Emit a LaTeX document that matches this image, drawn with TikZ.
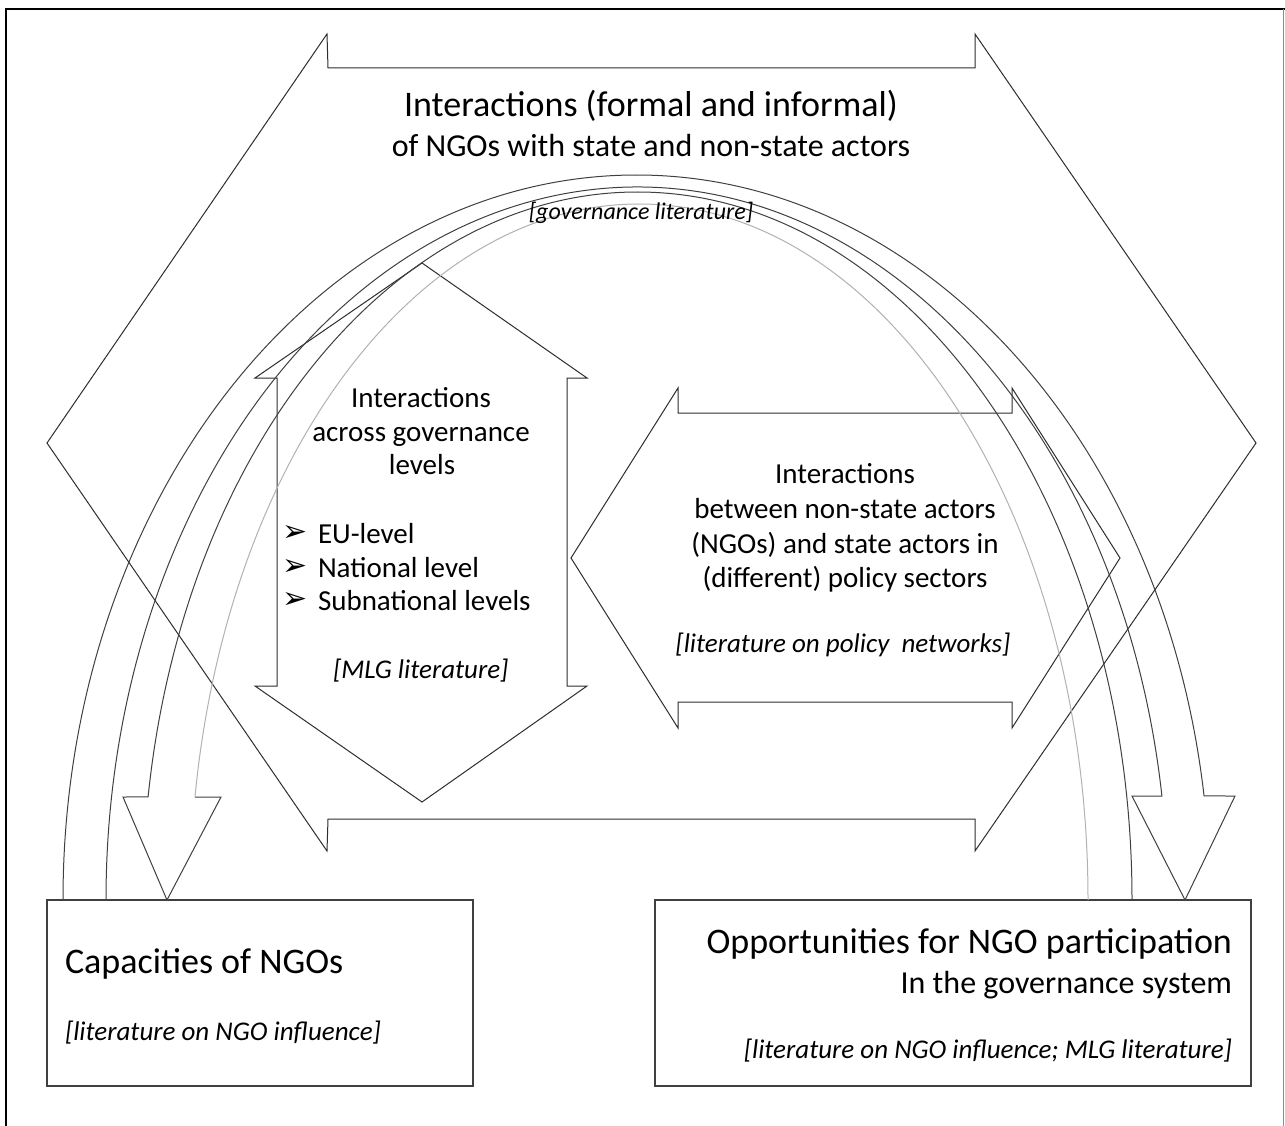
\documentclass[tikz,border=0pt]{standalone}
\usepackage{fontspec}
\setmainfont{Carlito}
\newfontfamily\dejavu{DejaVu Sans}
\usetikzlibrary{calc}
\begin{document}
\begin{tikzpicture}[x=1pt,y=1pt,
  shapeline/.style={draw=black!82, line width=1pt, line join=miter},
  arcline/.style={draw=black!75, line width=1pt, line join=miter},
  lightarc/.style={draw=black!30, line width=1pt},
  boxnode/.style={draw=black!75, line width=1.3pt, inner sep=0pt, outer sep=0pt, rectangle},
  txt/.style={inner sep=0pt, outer sep=0pt, text=black},
  fbig/.style={txt, font=\fontsize{36}{43}\selectfont},
  fsub/.style={txt, font=\fontsize{32}{38}\selectfont},
  fmid/.style={txt, font=\fontsize{29}{35}\selectfont},
  fital/.style={txt, font=\fontsize{27}{32}\selectfont\itshape},
  fsmall/.style={txt, font=\fontsize{24}{29}\selectfont\itshape},
  fbul/.style={txt, font=\fontsize{30}{36}\selectfont\dejavu}
]
\useasboundingbox (0,0) rectangle (1285,-1126);
\fill[white] (0,0) rectangle (1285,-1126);

% outer frame
\draw[black, line width=2.6pt] (6,-1127) -- (6,-9) -- (1285,-9);
\draw[black!45, line width=1pt] (1283.5,-9) -- (1283.5,-1127);

% large left-right double arrow
\draw[shapeline] (47,-443) -- (327,-34) -- (328,-68) -- (975,-68) -- (975,-34)
  -- (1256,-443) -- (975,-851) -- (975,-819) -- (328,-819) -- (327,-851) -- cycle;

% vertical double arrow
\draw[shapeline] (422,-263) -- (587,-378) -- (567,-378) -- (567,-686) -- (587,-686)
  -- (422,-802) -- (255,-686) -- (277,-686) -- (277,-378) -- (255,-378) -- cycle;

% middle-right double arrow
\draw[shapeline] (571,-558) -- (678,-388) -- (678,-413) -- (1012,-413) -- (1012,-388)
  -- (1120,-558) -- (1012,-728) -- (1012,-702) -- (678,-702) -- (678,-728) -- cycle;

% boxes
\node[boxnode, minimum width=426pt, minimum height=186pt] (capbox) at (260,-993) {};
\node[boxnode, minimum width=596pt, minimum height=186pt] (oppbox) at (953,-993) {};

% arc anchor points on the boxes
\coordinate (aout) at ($(capbox.north west)+(16,0)$);
\coordinate (bout) at ($(oppbox.north west)+(477,0)$);
\coordinate (binn) at ($(oppbox.north west)+(433,0)$);
\coordinate (atip) at ($(oppbox.north west)+(530,0)$);
\coordinate (btip) at ($(capbox.north west)+(120,0)$);

% curved arrow from capacities box to opportunities box
\draw[arcline] (aout) arc[start angle=180, end angle=8.25, x radius=573.5, y radius=725]
  -- (1235,-796) -- (atip) -- (1132,-796) -- (1161.9,-796)
  arc[start angle=8.39, end angle=180, x radius=530.8, y radius=713];

% curved arrow from opportunities box to capacities box
\draw[arcline] (bout) arc[start angle=0, end angle=171.63, x radius=494.6, y radius=708]
  -- (123,-797) -- (btip) -- (221,-797) -- (195,-797);
\draw[lightarc] (binn) arc[start angle=0, end angle=171.49, x radius=449, y radius=696];

% texts: top
\node[fbig, anchor=base] (t1) at (651,-117) {Interactions (formal and informal)};
\node[fsub, anchor=base] (t2) at (651,-157) {of NGOs with state and non-state actors};
\node[fsmall, anchor=base] (t3) at (641,-219) {[governance literature]};

% vertical arrow texts
\node[fmid, anchor=base] (v1) at (421,-407) {Interactions};
\node[fmid, anchor=base] (v2) at (421,-441) {across governance};
\node[fmid, anchor=base] (v3) at (422,-474) {levels};
\node[fbul, anchor=west] (b1) at (282,-533) {➢};
\node[fbul, anchor=west] (b2) at (282,-567) {➢};
\node[fbul, anchor=west] (b3) at (282,-600) {➢};
\node[fmid, anchor=base west] (v4) at (318,-543) {EU-level};
\node[fmid, anchor=base west] (v5) at (318,-577) {National level};
\node[fmid, anchor=base west] (v6) at (318,-610) {Subnational levels};
\node[fital, anchor=base west] (v7) at (333,-678) {[MLG literature]};

% middle-right texts
\node[fmid, anchor=base] (h1) at (845,-483) {Interactions};
\node[fmid, anchor=base] (h2) at (845,-518) {between non-state actors};
\node[fmid, anchor=base] (h3) at (845,-553) {(NGOs) and state actors in};
\node[fmid, anchor=base] (h4) at (845,-587) {(different) policy sectors};
\node[fital, anchor=base] (h5) at (843,-652) {[literature on policy\ \ networks]};

% box texts
\node[fbig, anchor=base west] (c1) at (65,-973) {Capacities of NGOs};
\node[fital, anchor=base west] (c2) at (65,-1040) {[literature on NGO influence]};
\node[fbig, anchor=base east] (o1) at (1232,-953) {Opportunities for NGO participation};
\node[fsub, anchor=base east] (o2) at (1232,-993) {In the governance system};
\node[fital, anchor=base east] (o3) at (1232,-1058) {[literature on NGO influence; MLG literature]};
\end{tikzpicture}
\end{document}
